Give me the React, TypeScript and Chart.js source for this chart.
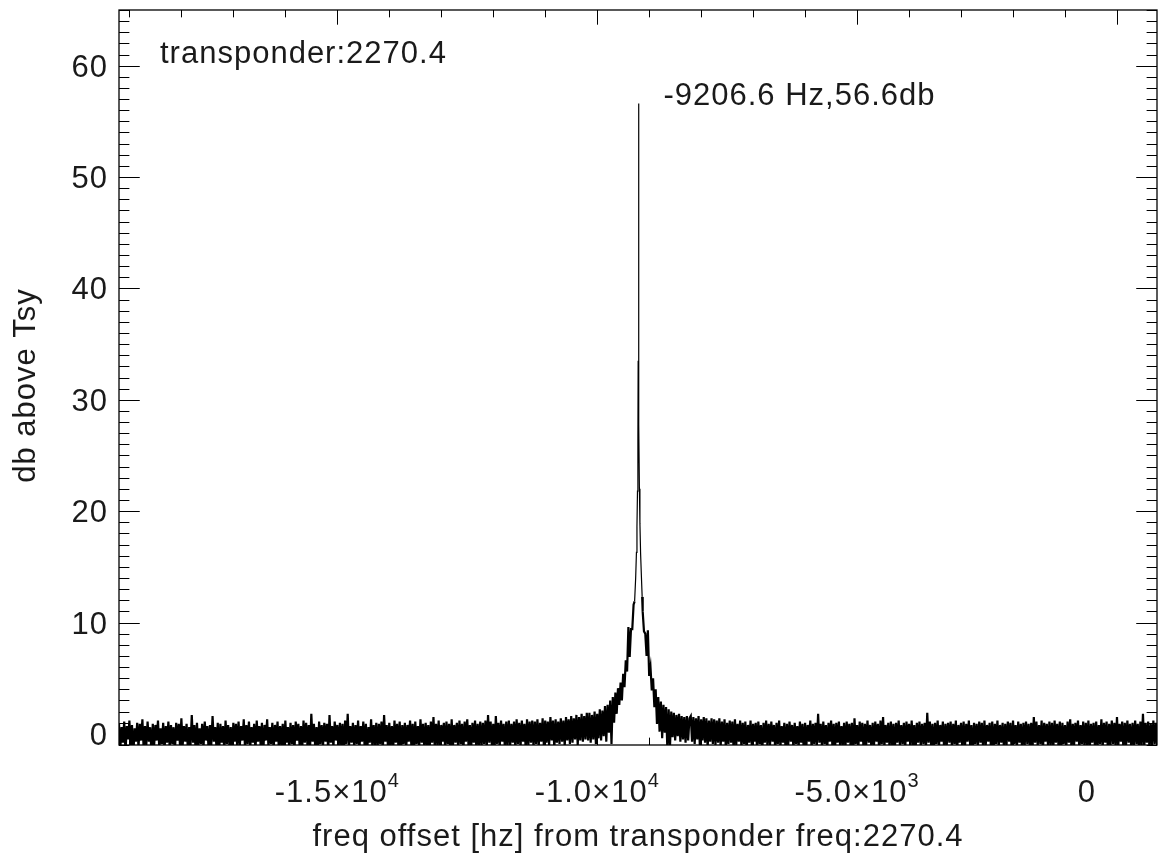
import React, { useEffect, useRef } from "react";
import { Chart, registerables } from "chart.js";

Chart.register(...registerables);

// ---------- axis ranges ----------
const FREQ_MIN = -19200;
const FREQ_MAX = 770;
const DB_MIN = -1;
const DB_MAX = 65;

// ---------- spectrum bins ----------
const binStepHz = 25;
const noiseLeftStartHz = -19200;
const noiseRightStartHz = -8200;

// noise floor, left of the carrier (one value per 25 Hz bin)
const noiseLeftDb = [
  0.9, -1.3, 0.6, -0.8, 1.1, -1.6, 0.7, -0.5, 1.2, -1.1, 0.8, -1.9, 0.5, -0.7, 1.0, -1.2, 0.9, -0.6, 1.3, -1.4,
  0.7, -1.0, 1.1, -0.7, 0.6, -1.8, 0.9, -1.1, 0.8, -0.6, 1.2, -1.3, 0.5, -0.9, 1.0, -1.5, 0.7, -0.8, 1.1, -1.2,
  0.8, -0.9, 0.6, -1.7, 1.0, -0.6, 0.9, -1.2, 1.4, -1.0, 0.7, -0.7, 0.9, -1.4, 0.6, -1.1, 1.7, -0.8, 0.8, -1.6,
  1.0, -1.1, 0.5, -0.9, 0.9, -1.3, 1.1, -0.6, 0.7, -1.5, 0.8, -1.0, 1.6, -0.7, 0.6, -1.2, 1.0, -1.8, 0.9, -0.8,
  0.7, -1.4, 1.2, -0.9, 0.8, -1.1, 0.6, -1.6, 1.0, -0.7, 0.9, -1.2, 1.1, -1.0, 0.7, -0.6, 1.3, -1.3, 0.8, -0.9,
  1.1, -1.2, 0.6, -0.8, 0.9, -1.5, 1.2, -0.7, 0.7, -1.0, 1.0, -1.7, 0.8, -0.6, 1.3, -1.1, 0.6, -0.9, 1.0, -1.4,
  0.8, -0.7, 1.1, -1.3, 0.7, -1.0, 0.9, -1.6, 1.2, -0.8, 0.6, -1.2, 1.0, -0.9, 0.8, -1.5, 1.1, -0.6, 0.9, -1.1,
  0.7, -1.3, 1.2, -0.8, 1.0, -1.0, 0.8, -1.4, 1.8, -0.7, 0.9, -1.2, 0.6, -1.6, 1.1, -0.9, 0.8, -1.1, 1.0, -0.7,
  0.9, -1.5, 1.7, -0.8, 0.7, -1.2, 1.1, -0.6, 0.8, -1.3, 1.0, -1.0, 0.9, -1.7, 1.2, -0.9, 1.8, -1.1, 0.7, -0.8,
  1.0, -1.2, 0.8, -0.9, 1.2, -1.4, 0.7, -0.7, 1.1, -1.1, 0.9, -1.6, 0.6, -0.8, 1.3, -1.2, 0.8, -1.0, 1.0, -1.3,
  0.9, -0.9, 1.1, -1.5, 1.7, -0.7, 0.8, -1.2, 1.0, -1.0, 0.7, -1.4, 1.2, -0.8, 0.9, -1.1, 1.1, -1.7, 0.8, -0.9,
  1.0, -1.3, 0.8, -0.7, 1.2, -1.1, 0.9, -1.5, 1.1, -0.9, 0.7, -1.2, 1.3, -0.8, 0.9, -1.4, 1.0, -1.0, 0.8, -1.6,
  1.1, -0.8, 1.5, -1.2, 0.9, -1.0, 1.2, -1.4, 0.8, -0.7, 1.0, -1.3, 1.1, -0.9, 0.9, -1.6, 1.3, -1.1, 0.8, -0.8,
  1.0, -1.2, 1.2, -0.9, 0.9, -1.5, 1.1, -0.7, 1.3, -1.1, 0.8, -1.3, 1.0, -0.8, 1.2, -1.4, 0.9, -1.0, 1.1, -1.2,
  1.0, -0.9, 1.2, -1.3, 1.7, -0.8, 1.1, -1.1, 0.9, -1.5, 1.6, -0.9, 1.0, -1.2, 1.2, -0.7, 0.9, -1.4, 1.1, -1.0,
  1.2, -1.1, 0.9, -0.8, 1.1, -1.3, 1.3, -0.9, 1.0, -1.2, 1.2, -0.7, 0.9, -1.4, 1.3, -1.0, 1.1, -0.8, 1.2, -1.2,
  1.1, -0.9, 1.3, -1.1, 1.0, -0.7, 1.4, -1.2, 1.2, -0.8, 1.1, -1.0, 1.5, -0.6, 1.2, -1.3, 1.3, -0.8, 1.1, -0.9,
  1.4, -0.7, 1.2, -1.1, 1.5, -0.6, 1.3, -0.9, 1.6, -0.8, 1.4, -0.5, 1.7, -1.0, 1.5, -0.6, 1.8, -0.7, 1.6, -0.5,
  1.9, -0.6,
];

// carrier region (explicit bin frequencies)
const peakHz = [
  -10150, -10125, -10100, -10075, -10050, -10025, -10000, -9975, -9950, -9925,
  -9900, -9875, -9850, -9825, -9800, -9775, -9750, -9725, -9700, -9675,
  -9650, -9625, -9600, -9575, -9550, -9525, -9500, -9475, -9450, -9425,
  -9400, -9375, -9350, -9325, -9300,
  -9280, -9260, -9245, -9235, -9225, -9217, -9212, -9206.6, -9201, -9196,
  -9188, -9178, -9165, -9150, -9135,
  -9125, -9100, -9075, -9050, -9025, -9000, -8975, -8950, -8925, -8900,
  -8875, -8850, -8825, -8800, -8775, -8750, -8725, -8700, -8675, -8650,
  -8625, -8600, -8575, -8550, -8525, -8500, -8475, -8450, -8425, -8400,
  -8375, -8350, -8325, -8300, -8275, -8250, -8225,
];
const peakDb = [
  1.9, -0.8, 1.7, -0.5, 2.0, -0.9, 1.8, -0.4, 2.2, -0.6,
  2.1, -0.2, 2.5, -0.7, 2.6, 0.1, 3.0, -0.9, 3.3, 1.0,
  3.7, 1.8, 4.1, 2.6, 4.6, 3.0, 5.4, 4.2, 6.6, 5.6,
  9.6, 6.9, 9.4, 9.4, 11.6,
  11.9, 14.0, 16.3, 18.6, 21.8, 26.5, 33.5, 56.6, 35.0, 27.8,
  22.0, 18.9, 16.2, 14.2, 12.3,
  11.0, 9.2, 9.0, 7.0, 9.3, 5.2, 6.0, 3.9, 5.0, 2.4,
  4.0, 0.9, 3.3, 0.2, 2.9, -0.4, 2.6, 0.1, 2.4, -1.4,
  2.2, -1.2, 2.0, -0.3, 1.9, -0.6, 1.7, -0.2, 1.8, -0.7,
  1.6, -0.5, 1.5, -0.8, 1.6, -0.6, 1.4,
];

// noise floor, right of the carrier (one value per 25 Hz bin)
const noiseRightDb = [
  1.6, -0.7, 1.5, -0.9, 1.4, -0.5, 1.6, -1.1, 1.3, -0.6, 1.5, -0.8, 1.4, -1.2, 1.2, -0.7, 1.4, -0.9, 1.3, -1.0,
  1.2, -0.8, 1.4, -1.1, 1.1, -0.7, 1.3, -1.3, 1.0, -0.9, 1.2, -0.8, 1.1, -1.4, 1.3, -1.0, 0.9, -0.7, 1.2, -1.2,
  1.0, -0.9, 1.1, -1.5, 0.8, -0.8, 1.2, -1.1, 0.9, -0.7, 1.0, -1.3, 1.1, -0.9, 0.8, -1.6, 1.0, -0.8, 1.2, -1.1,
  0.9, -1.0, 1.1, -0.7, 0.8, -1.4, 1.0, -0.9, 1.2, -1.2, 0.7, -0.8, 1.0, -1.5, 0.9, -1.0, 1.1, -0.7, 0.8, -1.3,
  1.0, -0.9, 0.7, -1.2, 1.1, -0.8, 0.9, -1.6, 1.0, -1.0, 0.8, -0.7, 1.2, -1.3, 0.9, -0.9, 1.0, -1.1, 1.8, -0.8,
  0.9, -1.2, 1.1, -0.9, 0.8, -1.4, 1.0, -0.7, 1.2, -1.1, 0.9, -1.5, 1.0, -0.8, 1.1, -1.2, 0.7, -1.0, 1.0, -1.3,
  1.1, -0.8, 0.9, -1.1, 1.0, -1.6, 1.4, -0.9, 0.8, -1.2, 1.1, -0.7, 1.0, -1.4, 0.9, -1.0, 1.2, -0.8, 0.8, -1.3,
  1.0, -1.1, 1.1, -0.7, 0.9, -1.5, 1.2, -0.9, 1.5, -1.2, 0.8, -0.8, 1.0, -1.3, 1.1, -1.0, 0.9, -1.6, 1.0, -0.8,
  1.2, -1.1, 0.8, -0.9, 1.0, -1.4, 1.1, -0.7, 0.9, -1.2, 1.2, -1.0, 0.8, -1.5, 1.0, -0.8, 1.1, -1.1, 0.9, -0.9,
  1.0, -1.3, 1.9, -0.8, 1.1, -1.1, 0.9, -1.6, 1.0, -0.9, 1.2, -1.2, 0.8, -0.7, 1.1, -1.4, 0.9, -1.0, 1.0, -0.8,
  1.1, -1.2, 0.9, -0.9, 1.2, -1.5, 0.8, -0.8, 1.0, -1.1, 1.1, -1.3, 0.9, -0.7, 1.2, -1.0, 0.8, -1.6, 1.0, -0.9,
  0.9, -1.1, 1.1, -0.8, 1.0, -1.4, 1.2, -1.0, 0.8, -0.7, 1.0, -1.2, 1.1, -1.5, 0.9, -0.9, 1.2, -1.1, 0.8, -0.8,
  1.0, -1.3, 0.9, -1.0, 1.1, -0.7, 1.0, -1.6, 1.2, -0.9, 0.8, -1.2, 1.1, -0.8, 0.9, -1.4, 1.0, -1.0, 1.1, -0.9,
  0.9, -1.2, 1.0, -1.4, 1.5, -0.8, 1.1, -1.1, 0.8, -0.9, 1.2, -1.5, 1.0, -0.7, 0.9, -1.2, 1.1, -1.0, 1.0, -1.3,
  1.2, -0.8, 0.9, -1.1, 1.1, -1.6, 1.0, -0.9, 0.8, -1.2, 1.1, -0.8, 1.3, -1.4, 0.9, -1.0, 1.0, -0.7, 1.2, -1.3,
  0.8, -0.9, 1.1, -1.2, 1.0, -1.0, 1.2, -1.5, 0.9, -0.8, 1.0, -1.1, 1.1, -1.3, 0.8, -0.9, 1.3, -1.2, 1.0, -0.8,
  1.1, -1.4, 0.9, -1.0, 1.2, -0.9, 1.0, -1.2, 1.5, -1.1, 0.9, -0.7, 1.1, -1.5, 1.0, -1.0, 1.2, -0.8, 0.9, -1.3,
  1.0, -1.1, 1.2, -0.9, 0.9, -1.4, 1.1, -1.0, 1.8, -1.2, 1.0, -0.8, 1.1, -1.3, 0.9, -1.0, 1.2, -0.9, 1.0, -1.2,
];

// ---------- ticks & text ----------
const xMajorTicks = [-15000, -10000, -5000, 0];
const xTickMantissa = ["-1.5", "-1.0", "-5.0", "0"];
const xTickExponent = ["4", "4", "3", ""];
const xMinorStepHz = 1000;
const yMajorTicks = [0, 10, 20, 30, 40, 50, 60];
const yMinorStep = 1;

const peakFreqHz = -9206.6;
const peakPowerDb = 56.6;
const peakLabel = "-9206.6 Hz,56.6db";
const cornerLabel = "transponder:2270.4";
const xTitle = "freq offset [hz] from transponder freq:2270.4";
const yTitle = "db above Tsy";

const FONT = "'Liberation Sans', Arial, Helvetica, sans-serif";
const TEXT_COLOR = "#1a1a1a";

const idlAxesPlugin = {
  id: "idlAxes",
  afterDraw(chart: any) {
    const { ctx, chartArea } = chart;
    const { left, right, top, bottom } = chartArea;
    const xs = chart.scales.x;
    const ys = chart.scales.y;
    const w = right - left;
    const h = bottom - top;
    ctx.save();

    // frame
    ctx.strokeStyle = "#000";
    ctx.lineWidth = 1.3;
    ctx.strokeRect(left, top, w, h);

    // ticks (inside the box, on all four sides)
    ctx.beginPath();
    const yMaj = 0.02 * w;
    const yMin = 0.01 * w;
    const xMaj = 0.02 * h;
    const xMin = 0.01 * h;
    for (let v = Math.ceil(DB_MIN); v <= DB_MAX; v += yMinorStep) {
      const len = yMajorTicks.includes(v) ? yMaj : yMin;
      const py = Math.round(ys.getPixelForValue(v)) + 0.5;
      ctx.moveTo(left, py);
      ctx.lineTo(left + len, py);
      ctx.moveTo(right, py);
      ctx.lineTo(right - len, py);
    }
    for (
      let v = Math.ceil(FREQ_MIN / xMinorStepHz) * xMinorStepHz;
      v <= FREQ_MAX;
      v += xMinorStepHz
    ) {
      const len = xMajorTicks.includes(v) ? xMaj : xMin;
      const px = Math.round(xs.getPixelForValue(v)) + 0.5;
      ctx.moveTo(px, bottom);
      ctx.lineTo(px, bottom - len);
      ctx.moveTo(px, top);
      ctx.lineTo(px, top + len);
    }
    ctx.lineWidth = 1;
    ctx.stroke();

    // text
    ctx.fillStyle = TEXT_COLOR;
    ctx.textBaseline = "alphabetic";
    (ctx as any).letterSpacing = "1px";
    const mainFont = `31px ${FONT}`;
    const supFont = `20px ${FONT}`;

    // y tick labels
    ctx.font = mainFont;
    ctx.textAlign = "right";
    yMajorTicks.forEach((v) => {
      ctx.fillText(String(v), left - 11, ys.getPixelForValue(v) + 11);
    });

    // x tick labels with superscript exponent
    ctx.textAlign = "left";
    xMajorTicks.forEach((v, i) => {
      const px = xs.getPixelForValue(v);
      const exp = xTickExponent[i];
      const main = exp ? `${xTickMantissa[i]}×10` : xTickMantissa[i];
      ctx.font = mainFont;
      const w1 = ctx.measureText(main).width;
      ctx.font = supFont;
      const w2 = exp ? ctx.measureText(exp).width : 0;
      let start = px - (w1 + w2) / 2;
      if (!exp) start -= 30;
      ctx.font = mainFont;
      ctx.fillText(main, start, bottom + 57);
      if (exp) {
        ctx.font = supFont;
        ctx.fillText(exp, start + w1, bottom + 42);
      }
    });

    // axis titles
    ctx.font = mainFont;
    ctx.textAlign = "center";
    ctx.fillText(xTitle, (left + right) / 2, bottom + 101);
    ctx.save();
    ctx.translate(35, (top + bottom) / 2 + 8);
    ctx.rotate(-Math.PI / 2);
    ctx.fillText(yTitle, 0, 0);
    ctx.restore();

    // annotations
    ctx.textAlign = "left";
    ctx.fillText(cornerLabel, left + 41, top + 53);
    ctx.fillText(
      peakLabel,
      xs.getPixelForValue(peakFreqHz) + 25,
      ys.getPixelForValue(peakPowerDb) + 1
    );

    ctx.restore();
  },
};

export default function App() {
  const canvasRef = useRef<HTMLCanvasElement | null>(null);

  useEffect(() => {
    const canvas = canvasRef.current;
    if (!canvas) return;
    const spectrum = [
      ...noiseLeftDb.map((db, i) => ({ x: noiseLeftStartHz + i * binStepHz, y: db })),
      ...peakHz.map((hz, i) => ({ x: hz, y: peakDb[i] })),
      ...noiseRightDb.map((db, i) => ({ x: noiseRightStartHz + i * binStepHz, y: db })),
    ];
    const chart = new Chart(canvas, {
      type: "line",
      data: {
        datasets: [
          {
            data: spectrum,
            borderColor: "#000",
            borderWidth: 1.2,
            pointRadius: 0,
            tension: 0,
            fill: false,
            segment: {
              // dense noise trace: thicker where it stays near the floor
              borderWidth: (c: any) =>
                Math.max(c.p0.parsed.y, c.p1.parsed.y) > 13 ? 1.2 : 2.2,
            },
          },
        ],
      },
      options: {
        animation: false,
        responsive: false,
        events: [],
        layout: { padding: { left: 119, right: 2, top: 10, bottom: 116 } },
        scales: {
          x: { type: "linear", min: FREQ_MIN, max: FREQ_MAX, display: false },
          y: { type: "linear", min: DB_MIN, max: DB_MAX, display: false },
        },
        plugins: {
          legend: { display: false },
          tooltip: { enabled: false },
          title: { display: false },
        },
      },
      plugins: [idlAxesPlugin],
    } as any);
    return () => chart.destroy();
  }, []);

  return (
    <div
      style={{
        position: "absolute",
        left: 0,
        top: 0,
        width: 1159,
        height: 861,
        background: "#fff",
      }}
    >
      <canvas ref={canvasRef} width={1159} height={861} style={{ display: "block" }} />
    </div>
  );
}
